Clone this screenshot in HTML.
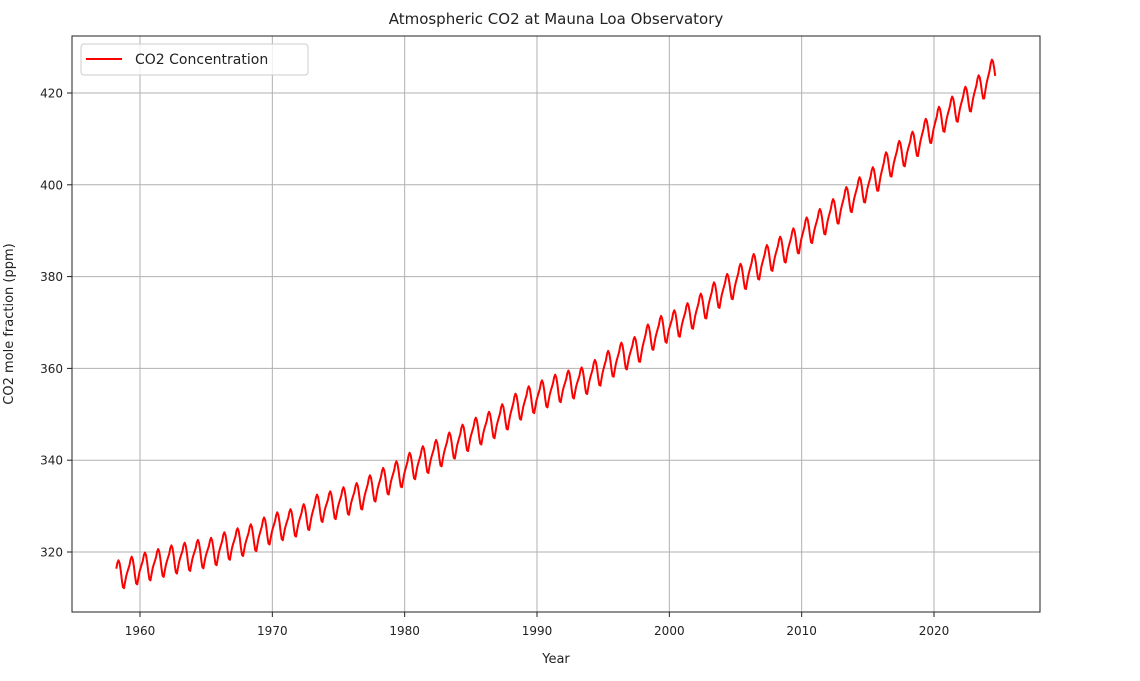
<!DOCTYPE html>
<html><head><meta charset="utf-8"><style>
html,body{margin:0;padding:0;background:#fff;}
svg text{font-family:"DejaVu Sans","Liberation Sans",sans-serif;fill:#222;}
</style></head><body>
<svg id="chart" width="1140" height="676" xmlns="http://www.w3.org/2000/svg">
<text x="556" y="24" font-size="15" text-anchor="middle">Atmospheric CO2 at Mauna Loa Observatory</text>
<g id="grid"></g>
<g id="series"></g>
<rect x="72" y="36" width="968" height="576" fill="none" stroke="#222" stroke-width="1"/>
<g id="ticks"></g>
<text x="556" y="663" font-size="13" text-anchor="middle">Year</text>
<text transform="translate(13,324) rotate(-90)" font-size="13" text-anchor="middle">CO2 mole fraction (ppm)</text>
<g>
<rect x="81" y="44" width="227" height="31" rx="3" fill="#fff" fill-opacity="0.8" stroke="#ccc"/>
<line x1="86" y1="59" x2="122" y2="59" stroke="#f00" stroke-width="2"/>
<text x="135" y="64" font-size="14">CO2 Concentration</text>
</g>
</svg>
<script>
const years=[1958,1959,1960,1961,1962,1963,1964,1965,1966,1967,1968,1969,1970,1971,1972,1973,1974,1975,1976,1977,1978,1979,1980,1981,1982,1983,1984,1985,1986,1987,1988,1989,1990,1991,1992,1993,1994,1995,1996,1997,1998,1999,2000,2001,2002,2003,2004,2005,2006,2007,2008,2009,2010,2011,2012,2013,2014,2015,2016,2017,2018,2019,2020,2021,2022,2023,2024];
const annualMean=[315.2,315.98,316.91,317.64,318.45,318.99,319.62,320.04,321.37,322.18,323.05,324.62,325.68,326.32,327.46,329.68,330.19,331.13,332.03,333.84,335.41,336.84,338.76,340.12,341.48,343.15,344.87,346.35,347.61,349.31,351.69,353.20,354.45,355.70,356.54,357.21,358.96,360.97,362.74,363.88,366.84,368.54,369.71,371.32,373.45,375.98,377.70,379.98,382.09,384.02,385.83,387.64,390.10,391.85,394.06,396.74,398.81,401.01,404.41,406.76,408.72,411.65,414.21,416.41,418.53,421.08,424.6];
const seasonal=[0.0,0.7,1.4,2.6,3.1,2.4,0.8,-1.3,-3.0,-3.3,-2.0,-0.8];
const xTicks=[1960,1970,1980,1990,2000,2010,2020];
const yTicks=[320,340,360,380,400,420];
const startMonth=2, endMonth=7;
const X=v=>140+(v-1960)*(794/60);
const Y=v=>552-(v-320)*(459/100);
const NS="http://www.w3.org/2000/svg";
const grid=document.getElementById('grid'),ticks=document.getElementById('ticks'),series=document.getElementById('series');
function mk(tag,attrs,parent){const e=document.createElementNS(NS,tag);for(const k in attrs)e.setAttribute(k,attrs[k]);parent.appendChild(e);return e;}
xTicks.forEach(t=>{
 const g=mk('line',{x1:X(t),x2:X(t),y1:36,y2:612,stroke:'#b0b0b0','stroke-width':1},grid);
 
 
 mk('line',{x1:X(t),x2:X(t),y1:612,y2:617,stroke:'#222'},ticks);
 const tx=mk('text',{x:X(t),y:635,'font-size':12,'text-anchor':'middle'},ticks);tx.textContent=t;
 
 
});
yTicks.forEach(t=>{
 const g=mk('line',{x1:72,x2:1040,y1:Y(t),y2:Y(t),stroke:'#b0b0b0','stroke-width':1},grid);
 
 
 mk('line',{x1:67,x2:72,y1:Y(t),y2:Y(t),stroke:'#222'},ticks);
 const tx=mk('text',{x:63,y:Y(t)+4.5,'font-size':12,'text-anchor':'end'},ticks);tx.textContent=t;
 
 
});
let pts=[];
for(let i=0;i<years.length;i++){
 for(let m=0;m<12;m++){
  if(i===0&&m<startMonth)continue;
  if(i===years.length-1&&m>endMonth)continue;
  const t=years[i]+(m+0.5)/12;
  const f=(m+0.5)/12-0.5;
  let base;
  if(f>=0){const nxt=i<years.length-1?annualMean[i+1]:annualMean[i]+(annualMean[i]-annualMean[i-1]);base=annualMean[i]+(nxt-annualMean[i])*f;}
  else{const prv=i>0?annualMean[i-1]:annualMean[i]-(annualMean[i+1]-annualMean[i]);base=annualMean[i]+(annualMean[i]-prv)*f;}
  const v=base+seasonal[m];
  pts.push(X(t).toFixed(2)+','+Y(v).toFixed(2));
 }
}
const line=mk('polyline',{points:pts.join(' '),fill:'none',stroke:'#ff0000','stroke-width':2,'stroke-linejoin':'round'},series);


</script>
</body></html>
